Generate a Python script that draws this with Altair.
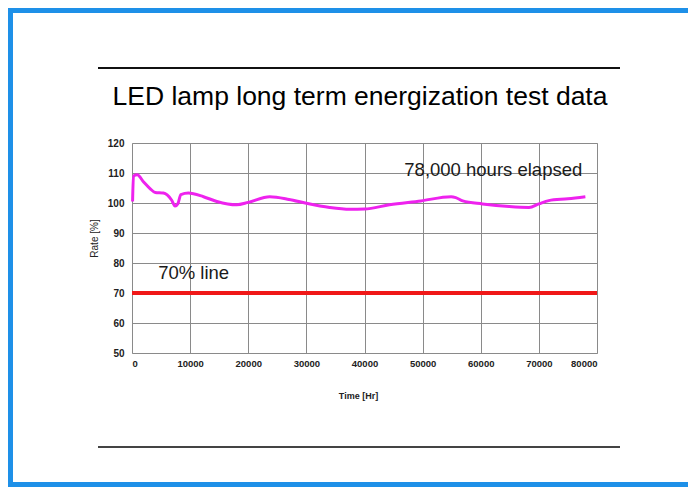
import altair as alt
import pandas as pd

# --- data ---
time_hr = [100, 250, 900, 2000, 3100, 4000, 5400, 6800, 7400, 7900, 8400, 9700,
           12300, 14600, 18000, 20000, 23700, 27000, 30000, 34000, 37500, 40000,
           44300, 49700, 54900, 55700, 56900, 60300, 64900, 68300, 70000, 71700,
           75000, 78000]
rate_pct = [100.5, 109.0, 109.4, 107.0, 104.8, 103.5, 103.3, 101.0, 99.0, 99.8,
            102.8, 103.3, 102.1, 100.5, 99.4, 100.2, 102.1, 101.2, 99.9, 98.5,
            97.9, 98.0, 99.4, 100.7, 102.1, 101.8, 100.7, 99.7, 98.8, 98.5,
            99.7, 100.8, 101.4, 102.1]

line70_time = [0, 80000]
line70_rate = [70, 70]

note_text = ["70% line", "78,000 hours elapsed"]
note_time = [4500, 46850]
note_rate = [76.7, 111.1]

x_ticks = [0, 10000, 20000, 30000, 40000, 50000, 60000, 70000, 80000]
y_ticks = [50, 60, 70, 80, 90, 100, 110, 120]

title_text = "LED lamp long term energization test data"

FONT = "Liberation Sans"

df = pd.DataFrame({"t": time_hr, "r": rate_pct})
df70 = pd.DataFrame({"t": line70_time, "r": line70_rate})
dfn = pd.DataFrame({"t": note_time, "r": note_rate, "label": note_text})
one = pd.DataFrame({"k": [0]})

xscale = alt.Scale(domain=[0, 80000], nice=False, zero=False)
yscale = alt.Scale(domain=[50, 120], nice=False, zero=False)

xaxis = alt.Axis(values=x_ticks, format="d", title="Time [Hr]",
                 labelFont=FONT, labelFontWeight="bold", labelFontSize=9.5,
                 labelColor="#222", labelPadding=5, ticks=False, domain=False,
                 labelOverlap=False,
                 grid=True, gridColor="#8a8a8a", gridWidth=1,
                 titleFont=FONT, titleFontSize=9, titleFontWeight="bold",
                 titleColor="#222", titleX=226, titleY=42, titleBaseline="middle")
yaxis = alt.Axis(values=y_ticks, title="Rate [%]",
                 labelFont=FONT, labelFontWeight="bold", labelFontSize=10,
                 labelColor="#222", labelPadding=8, ticks=False, domain=False,
                 labelOverlap=False,
                 grid=True, gridColor="#8a8a8a", gridWidth=1,
                 titleFont=FONT, titleFontSize=10, titleFontWeight="normal",
                 titleColor="#222", titleX=-38, titleY=95, titleAngle=270,
                 titleAlign="center", titleBaseline="middle")

X = alt.X("t:Q", scale=xscale, axis=xaxis)
Y = alt.Y("r:Q", scale=yscale, axis=yaxis)

red = alt.Chart(df70).mark_line(color="#f01818", strokeWidth=4).encode(x=X, y=Y)

mag = alt.Chart(df).mark_line(color="#ee22ee", strokeWidth=3,
                              interpolate="monotone").encode(x=X, y=Y)

notes = alt.Chart(dfn).mark_text(font=FONT, fontSize=18.5, align="left",
                                 baseline="middle", color="#1a1a1a").encode(
    x=X, y=Y, text="label:N")

title = alt.Chart(one).mark_text(font=FONT, fontSize=26.5, align="center",
                                 baseline="alphabetic", color="#000").encode(
    x=alt.value(228), y=alt.value(-38), text=alt.value(title_text))

top_rule = alt.Chart(one).mark_rule(color="#111", strokeWidth=2).encode(
    x=alt.value(-34), x2=alt.value(488), y=alt.value(-75))
bottom_rule = alt.Chart(one).mark_rule(color="#444", strokeWidth=2).encode(
    x=alt.value(-34), x2=alt.value(488), y=alt.value(304))

BLUE = "#1e90e8"
frame_left = alt.Chart(one).mark_rule(color=BLUE, strokeWidth=5).encode(
    x=alt.value(-121.5), y=alt.value(-135), y2=alt.value(344))
frame_top = alt.Chart(one).mark_rule(color=BLUE, strokeWidth=5).encode(
    x=alt.value(-124), x2=alt.value(556), y=alt.value(-132.5))
frame_bottom = alt.Chart(one).mark_rule(color=BLUE, strokeWidth=5).encode(
    x=alt.value(-124), x2=alt.value(556), y=alt.value(341.5))

chart = alt.layer(red, mag, notes, title, top_rule, bottom_rule,
                  frame_left, frame_top, frame_bottom).properties(
    width=465, height=210,
    autosize=alt.AutoSizeParams(type="none"),
    padding={"left": 124, "top": 135, "right": 91, "bottom": 134},
    background="white",
).configure_view(stroke="#bbbbbb")

chart.save("out.html", embed_options={"renderer": "svg", "actions": False})
